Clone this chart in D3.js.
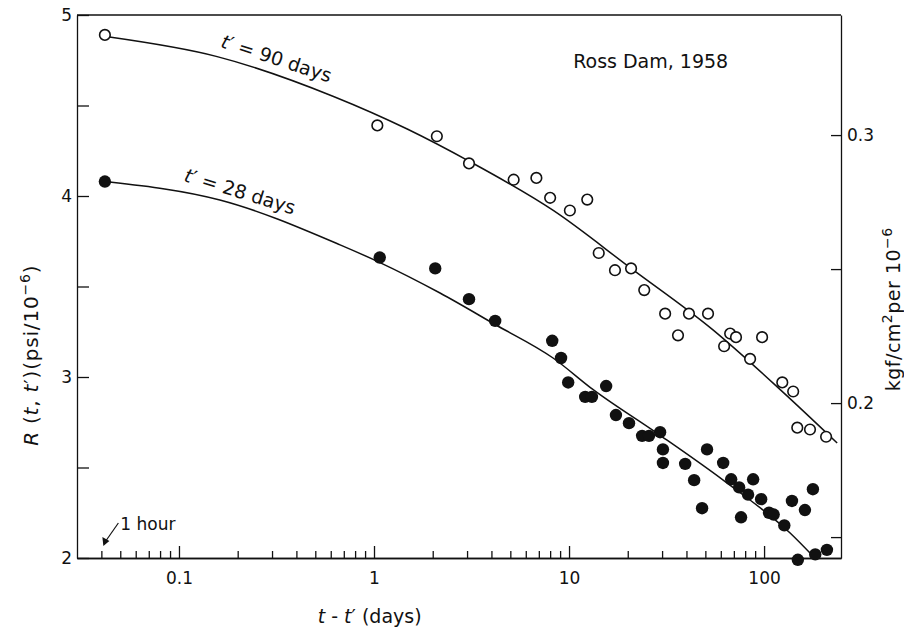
<!DOCTYPE html>
<html>
<head>
<meta charset="utf-8">
<script src="https://cdn.jsdelivr.net/npm/d3@7"></script>
<style>
  body { margin: 0; background: #fff; }
  svg { font-family: "DejaVu Sans", sans-serif; }
</style>
</head>
<body>
<div id="chart"></div>
<script>
// Ross Dam, 1958 - creep compliance R(t, t') against t - t' (log days)

// open circles, loaded at t' = 90 days
const days90 = [0.0417, 1.04, 2.1, 3.07, 5.2, 6.8, 8.0, 10.1, 12.4, 14.2, 17.2, 20.8, 24.3, 31.1,
  36.2, 41.2, 51.6, 62.4, 67.0, 71.8, 84.8, 97.7, 124, 141, 148, 172, 208];
const r90 = [4.89, 4.39, 4.33, 4.18, 4.09, 4.10, 3.99, 3.92, 3.98, 3.685, 3.59, 3.60, 3.48, 3.35,
  3.23, 3.35, 3.35, 3.17, 3.24, 3.22, 3.10, 3.22, 2.97, 2.92, 2.72, 2.71, 2.67];

// filled circles, loaded at t' = 28 days
const days28 = [0.0417, 1.07, 2.06, 3.07, 4.18, 8.2, 9.1, 9.9, 12.1, 13.1, 15.5, 17.4, 20.3, 23.7,
  25.7, 29.3, 30.3, 30.3, 39.4, 43.8, 48.1, 51.0, 61.7, 67.8, 74.5, 76.2, 82.8, 87.9, 96.6, 106,
  112, 127, 139, 149, 162, 178, 183, 210];
const r28 = [4.08, 3.66, 3.60, 3.43, 3.31, 3.20, 3.105, 2.97, 2.89, 2.89, 2.95, 2.79, 2.745, 2.675,
  2.675, 2.695, 2.60, 2.525, 2.52, 2.43, 2.275, 2.60, 2.525, 2.435, 2.39, 2.225, 2.35, 2.435, 2.325, 2.25,
  2.24, 2.18, 2.315, 1.99, 2.265, 2.38, 2.02, 2.045];

// fitted curves, points
const curveDays90 = [0.044, 0.157, 0.62, 1.48, 3.1, 8.3, 20.8, 54.7, 121, 237];
const curveR90 = [4.878, 4.77, 4.55, 4.37, 4.19, 3.92, 3.60, 3.26, 2.93, 2.635];
const curveDays28 = [0.044, 0.162, 0.67, 1.06, 2.18, 4.18, 8.28, 13.3, 28.2, 61.7, 136, 182];
const curveR28 = [4.077, 3.978, 3.73, 3.635, 3.464, 3.29, 3.105, 2.93, 2.69, 2.43, 2.138, 2.0];

// axes
const xMajorTicks = [0.1, 1, 10, 100];
const xMinorTicks = [0.04, 0.05, 0.06, 0.07, 0.08, 0.09, 0.2, 0.3, 0.4, 0.5, 0.6, 0.7, 0.8, 0.9,
  2, 3, 4, 5, 6, 7, 8, 9, 20, 30, 40, 50, 60, 70, 80, 90];
const yTicks = [2, 2.5, 3, 3.5, 4, 4.5, 5];
const yTickLabels = ["2", "", "3", "", "4", "", "5"];
const rightTicks = [0.15, 0.2, 0.25, 0.3];
const rightTickLabels = ["", "0.2", "", "0.3"];

// annotation anchors (data space)
const label90 = {days: 0.162, r: 4.823, text: " = 90 days"};
const label28 = {days: 0.105, r: 4.083, text: " = 28 days"};
const oneHourTick = 0.04;

let margin = {top: 15, right: 63, bottom: 72, left: 77};
let width = 904 - margin.left - margin.right;
let height = 630 - margin.top - margin.bottom;

let svg = d3.select("#chart")
  .append("svg")
  .attr("width", 904)
  .attr("height", 630)
  .append("g")
  .attr("transform", "translate(" + margin.left + "," + margin.top + ")");

let x = d3.scaleLog().domain([0.03, 248]).range([0, width]);
let y = d3.scaleLinear().domain([2, 5]).range([height, 0]);
let yRight = d3.scaleLinear().domain([0.1422, 0.3448]).range([height, 0]);

function styleAxis(g) {
  g.attr("font-family", "DejaVu Sans").attr("font-size", 17);
  g.selectAll("path, line").attr("stroke", "#111").attr("stroke-width", 1.3);
  g.selectAll("text").attr("fill", "#111");
}

// left axis
svg.append("g")
  .call(d3.axisLeft(y).tickValues(yTicks).tickSize(-12).tickSizeOuter(0).tickPadding(5)
    .tickFormat((d, i) => yTickLabels[i]))
  .call(styleAxis);

// bottom axis, minor then major ticks
svg.append("g")
  .attr("transform", "translate(0," + height + ")")
  .call(d3.axisBottom(x).tickValues(xMinorTicks).tickSize(-7).tickSizeOuter(0).tickFormat(""))
  .call(styleAxis);
svg.append("g")
  .attr("transform", "translate(0," + height + ")")
  .call(d3.axisBottom(x).tickValues(xMajorTicks).tickSize(-12).tickSizeOuter(0).tickPadding(14)
    .tickFormat(d => String(d)))
  .call(styleAxis);

// right axis in kgf/cm2
svg.append("g")
  .attr("transform", "translate(" + width + ",0)")
  .call(d3.axisRight(yRight).tickValues(rightTicks).tickSize(-10).tickSizeOuter(0).tickPadding(6)
    .tickFormat((d, i) => rightTickLabels[i]))
  .call(styleAxis);

// top border
svg.append("line")
  .attr("x1", 0).attr("x2", width).attr("y1", 0).attr("y2", 0)
  .attr("stroke", "#111").attr("stroke-width", 1.3);

// fitted curves
let line = d3.line()
  .x(d => x(d[0]))
  .y(d => y(d[1]))
  .curve(d3.curveMonotoneX);

[[curveDays90, curveR90], [curveDays28, curveR28]].forEach(function (c) {
  svg.append("path")
    .datum(d3.zip(c[0], c[1]))
    .attr("d", line)
    .attr("fill", "none")
    .attr("stroke", "#111")
    .attr("stroke-width", 1.5);
});

// data points
svg.append("g").selectAll("circle")
  .data(d3.zip(days90, r90))
  .join("circle")
  .attr("cx", d => x(d[0]))
  .attr("cy", d => y(d[1]))
  .attr("r", 5.3)
  .attr("fill", "#fff")
  .attr("stroke", "#111")
  .attr("stroke-width", 1.6);

svg.append("g").selectAll("circle")
  .data(d3.zip(days28, r28))
  .join("circle")
  .attr("cx", d => x(d[0]))
  .attr("cy", d => y(d[1]))
  .attr("r", 6.2)
  .attr("fill", "#111");

// curve labels
[[label90, 18], [label28, 17]].forEach(function (l) {
  let t = svg.append("text")
    .attr("transform", "translate(" + x(l[0].days) + "," + y(l[0].r) + ") rotate(" + l[1] + ")")
    .attr("font-size", 19)
    .attr("fill", "#111");
  t.append("tspan").attr("font-style", "italic").text("t");
  t.append("tspan").text("\u2032" + l[0].text);
});

// title
svg.append("text")
  .attr("x", x(10.5))
  .attr("y", y(4.707))
  .attr("font-size", 19)
  .attr("fill", "#111")
  .text("Ross Dam, 1958");

// 1 hour arrow
let hx = x(oneHourTick), hy = y(2);
svg.append("line")
  .attr("x1", hx + 17).attr("y1", hy - 35)
  .attr("x2", hx + 3).attr("y2", hy - 15)
  .attr("stroke", "#111").attr("stroke-width", 1.2);
svg.append("path")
  .attr("d", "M" + (hx + 2) + "," + (hy - 12) + "l-1,-9l7,4z")
  .attr("fill", "#111");
svg.append("text")
  .attr("x", hx + 19).attr("y", hy - 28)
  .attr("font-size", 17).attr("fill", "#111")
  .text("1 hour");

// x axis title
let xt = svg.append("text")
  .attr("x", x(0.95)).attr("y", height + 65)
  .attr("text-anchor", "middle")
  .attr("font-size", 19).attr("fill", "#111");
xt.append("tspan").attr("font-style", "italic").text("t");
xt.append("tspan").text(" - ");
xt.append("tspan").attr("font-style", "italic").text("t");
xt.append("tspan").text("\u2032 (days)");

// left axis title
let yt = svg.append("text")
  .attr("transform", "translate(" + (-39) + "," + y(3.12) + ") rotate(-90)")
  .attr("text-anchor", "middle")
  .attr("font-size", 20)
  .attr("letter-spacing", 0.8)
  .attr("fill", "#111");
yt.append("tspan").attr("font-style", "italic").text("R");
yt.append("tspan").text(" (");
yt.append("tspan").attr("font-style", "italic").text("t");
yt.append("tspan").text(", ");
yt.append("tspan").attr("font-style", "italic").text("t");
yt.append("tspan").text("\u2032)(psi/10");
yt.append("tspan").attr("font-size", 14).attr("dy", -8).text("\u22126");
yt.append("tspan").attr("dy", 8).text(")");

// right axis title
let rt = svg.append("text")
  .attr("transform", "translate(" + (width + 59) + "," + yRight(0.235) + ") rotate(-90)")
  .attr("text-anchor", "middle")
  .attr("font-size", 19)
  .attr("letter-spacing", 0.5)
  .attr("fill", "#111");
rt.append("tspan").text("kgf/cm");
rt.append("tspan").attr("font-size", 14).attr("dy", -8).text("2");
rt.append("tspan").attr("dy", 8).text("per 10");
rt.append("tspan").attr("font-size", 14).attr("dy", -8).text("\u22126");
</script>
</body>
</html>
